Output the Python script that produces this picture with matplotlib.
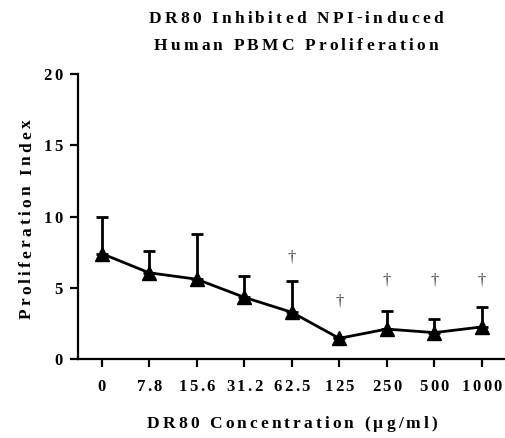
import numpy as np
import matplotlib.pyplot as plt
from matplotlib.font_manager import FontProperties
from matplotlib.transforms import IdentityTransform

# DR80 dose-response
conc_labels = ["0", "7.8", "15.6", "31.2", "62.5", "125", "250", "500", "1000"]
prolif_mean = [7.4, 6.05, 5.6, 4.33, 3.28, 1.45, 2.1, 1.85, 2.25]
prolif_upper = [9.95, 7.58, 8.75, 5.8, 5.45, 1.55, 3.35, 2.8, 3.68]
y_ticks = [0, 5, 10, 15, 20]
# daggers (significance marks) as (index, height)
dagger_idx = [4, 5, 6, 7, 8]
dagger_y = [7.2, 4.1, 5.6, 5.6, 5.6]

title_lines = ["DR80 Inhibited NPI-induced", "Human PBMC Proliferation"]
x_title = "DR80 Concentration (µg/ml)"
y_title = "Proliferation Index"

W, H = 506, 439
fig = plt.figure(figsize=(W / 100, H / 100), dpi=100)
ax = fig.add_axes([0.154, 0.18, 0.845, 0.649])
renderer = fig.canvas.get_renderer()


def spaced_text(s, x, y, size, track, rotation=0, align='center'):
    # the original graph uses very wide letter spacing; place glyphs one by one
    fp = FontProperties(family='Liberation Serif', weight='bold', size=size)

    def w(t):
        return renderer.get_text_width_height_descent(t, fp, ismath=False)[0]

    bar = w("|")
    pos = [0.0] + [w(s[:i] + "|") - bar for i in range(1, len(s))]
    total = w(s) + track * (len(s) - 1)
    start = {'center': -total / 2, 'right': -total, 'left': 0}[align]
    for i, ch in enumerate(s):
        if ch == " ":
            continue
        d = start + pos[i] + i * track
        px, py = (x + d, y) if rotation == 0 else (x, y + d)
        fig.text(px, py, ch, transform=IdentityTransform(), fontproperties=fp,
                 ha='left', va='baseline', rotation=rotation,
                 rotation_mode='anchor')


x = np.arange(len(conc_labels))
mean = np.array(prolif_mean)
err_up = np.array(prolif_upper) - mean
ax.errorbar(x, mean, yerr=[np.zeros_like(err_up), err_up], color='black',
            lw=2.0, marker='^', markersize=10, elinewidth=2.0,
            capsize=4.6, capthick=2.0)

for i, yv in zip(dagger_idx, dagger_y):
    ax.text(x[i], yv, "†", ha='center', va='center', fontsize=12,
            family='Liberation Serif', color='#444444')

ax.set_xlim(-0.5, 8.5)
ax.set_ylim(0, 20)
ax.set_yticks(y_ticks)
ax.set_xticks(x)
ax.set_xticklabels([])
ax.set_yticklabels([])

for s in ['top', 'right']:
    ax.spines[s].set_visible(False)
for s in ['left', 'bottom']:
    ax.spines[s].set_linewidth(1.6)
ax.tick_params(axis='both', direction='out', width=1.6, length=5.5)

# tick labels, positioned through the axes transform
for xi, lab in zip(x, conc_labels):
    px, py = ax.transData.transform((xi, 0))
    spaced_text(lab, px, py - 31, 12, 2.2)
for yv in y_ticks:
    px, py = ax.transData.transform((-0.5, yv))
    spaced_text(str(yv), px - 15, py - 5, 12, 3.0, align='right')

spaced_text(y_title, 31, H - 219, 12.5, 3.2, rotation=90)
spaced_text(x_title, 292, H - 428, 12.5, 3.1)
spaced_text(title_lines[0], 296, H - 23, 12.5, 3.2)
spaced_text(title_lines[1], 296, H - 50, 12.5, 3.2)

fig.savefig("out.png", dpi=100)
